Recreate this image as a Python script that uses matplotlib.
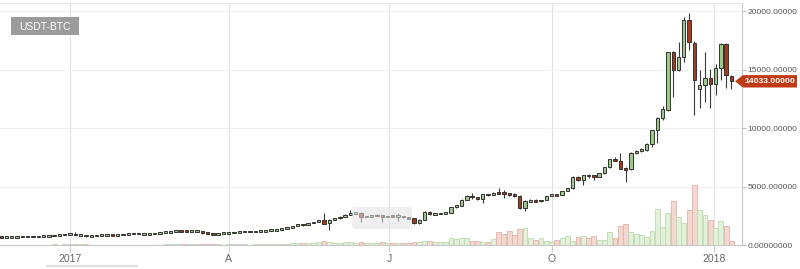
import numpy as np
import pandas as pd
import matplotlib
matplotlib.use('Agg')
import matplotlib.pyplot as plt
import matplotlib.dates as mdates
import matplotlib.transforms as mtransforms
from matplotlib.patches import Polygon, Rectangle, FancyBboxPatch
from matplotlib.lines import Line2D

plt.rcParams['font.family'] = ['Liberation Sans', 'DejaVu Sans']

# ---- data (3-day candles, USDT-BTC) ----
pair_name = 'USDT-BTC'
first_day = '2016-11-23'
period_days = 3
last_price = 14033.0
last_price_label = '14033.00000'

opens = [740, 735, 738, 745, 768, 762, 770, 775, 780, 790,
         830, 890, 900, 965, 1000, 895, 905, 800, 820, 895,
         900, 920, 895, 920, 970, 1025, 1040, 990, 1005, 1010,
         1055, 1120, 1175, 1190, 1270, 1250, 1190, 1240, 1245, 1060,
         1040, 965, 1040, 1050, 1090, 1140, 1190, 1200, 1180, 1210,
         1240, 1280, 1320, 1370, 1460, 1540, 1680, 1820, 1780, 1890,
         2030, 2180, 1900, 2220, 2320, 2460, 2610, 2750, 2780, 2460,
         2500, 2540, 2600, 2420, 2520, 2480, 2500, 2440, 2320, 1950,
         2220, 2880, 2650, 2720, 2750, 2800, 3260, 3400, 3890, 4260,
         4120, 4000, 4380, 4320, 4520, 4560, 4460, 4400, 4250, 3180,
         3800, 3830, 3800, 3890, 4230, 4370, 4320, 4660, 4890, 5880,
         5600, 6030, 5940, 5880, 6170, 6680, 7390, 7200, 6540, 6500,
         7930, 8080, 8200, 8700, 9870, 10900, 11600, 16500, 15000, 16110,
         19270, 17330, 13380, 13720, 14320, 13800, 15170, 17220, 14450]
highs = [750, 745, 750, 775, 772, 775, 780, 785, 795, 835,
         900, 935, 975, 1010, 1140, 920, 910, 830, 900, 905,
         925, 925, 925, 975, 1035, 1050, 1045, 1010, 1015, 1060,
         1125, 1190, 1200, 1280, 1290, 1260, 1250, 1260, 1260, 1080,
         1050, 1050, 1060, 1100, 1150, 1200, 1210, 1210, 1220, 1250,
         1290, 1330, 1380, 1470, 1560, 1700, 1850, 1840, 1900, 2050,
         2200, 2750, 2280, 2350, 2480, 2650, 3030, 2900, 2820, 2560,
         2620, 2650, 2620, 2560, 2560, 2800, 2560, 2450, 2340, 2250,
         2950, 2950, 2780, 2790, 2850, 3280, 3480, 3950, 4320, 4480,
         4180, 4400, 4400, 4600, 4950, 4700, 4500, 4450, 4350, 3850,
         4000, 3950, 3920, 4250, 4400, 4400, 4680, 4920, 5900, 5900,
         6050, 6080, 6020, 6200, 6750, 7400, 7600, 7880, 6700, 7950,
         8150, 8300, 8750, 9900, 10950, 11920, 16540, 16600, 17420, 19560,
         19850, 17500, 15000, 16560, 15090, 15510, 17300, 17300, 14600]
lows = [725, 728, 730, 740, 755, 758, 762, 768, 772, 785,
        825, 880, 895, 955, 880, 820, 760, 770, 815, 880,
        890, 885, 890, 915, 965, 1010, 960, 975, 995, 1005,
        1050, 1110, 1165, 1185, 1210, 1150, 1180, 1220, 1000, 990,
        930, 960, 1020, 1040, 1080, 1130, 1170, 1160, 1170, 1200,
        1230, 1270, 1310, 1360, 1450, 1530, 1670, 1700, 1770, 1880,
        2010, 1800, 1300, 2180, 2300, 2440, 2580, 2650, 2050, 2400,
        2450, 2500, 2000, 2400, 2430, 2100, 2380, 2250, 1850, 1850,
        2180, 2600, 2620, 2680, 2700, 2780, 3200, 3380, 3850, 3950,
        3900, 3600, 4250, 4300, 4400, 4100, 4250, 4150, 3150, 2950,
        3750, 3750, 3750, 3870, 4200, 4260, 4300, 4640, 4850, 5550,
        5170, 5800, 5600, 5850, 6150, 6650, 7200, 6500, 5450, 6450,
        7850, 7950, 8100, 8420, 8760, 10700, 11500, 12720, 14950, 15700,
        16710, 11150, 11750, 12290, 11750, 12860, 14150, 13460, 13370]
closes = [735, 738, 745, 768, 762, 770, 775, 780, 790, 830,
          890, 900, 965, 1000, 895, 905, 800, 820, 895, 900,
          920, 895, 920, 970, 1025, 1040, 990, 1005, 1010, 1055,
          1120, 1175, 1190, 1270, 1250, 1190, 1240, 1245, 1060, 1040,
          965, 1040, 1050, 1090, 1140, 1190, 1200, 1180, 1210, 1240,
          1280, 1320, 1370, 1460, 1540, 1680, 1820, 1780, 1890, 2030,
          2160, 1850, 2220, 2320, 2460, 2610, 2750, 2780, 2460, 2500,
          2540, 2600, 2420, 2520, 2480, 2500, 2440, 2320, 1900, 2200,
          2880, 2650, 2720, 2750, 2800, 3260, 3420, 3890, 4260, 4120,
          3960, 4380, 4320, 4520, 4500, 4460, 4400, 4230, 3230, 3800,
          3830, 3800, 3890, 4230, 4370, 4320, 4660, 4890, 5880, 5600,
          6030, 5940, 5880, 6170, 6730, 7390, 7250, 6540, 6500, 7930,
          8080, 8200, 8700, 9870, 10900, 11700, 16500, 15000, 16110, 19270,
          17420, 14150, 13720, 14320, 13800, 15170, 17220, 14570, 14033]
# volume is drawn on the price scale, as in the original chart
volumes = [45, 40, 50, 42, 38, 45, 40, 48, 55, 70,
           85, 75, 90, 95, 140, 110, 120, 80, 75, 70,
           60, 55, 60, 70, 75, 70, 80, 60, 55, 65,
           80, 95, 85, 110, 100, 120, 95, 85, 150, 110,
           120, 95, 80, 90, 100, 95, 85, 80, 90, 95,
           110, 120, 130, 160, 170, 220, 240, 180, 190, 230,
           260, 380, 300, 230, 220, 260, 300, 250, 320, 240,
           230, 250, 260, 210, 200, 230, 220, 240, 330, 300,
           420, 380, 300, 280, 310, 600, 520, 650, 600, 420,
           380, 300, 280, 520, 1150, 1000, 1200, 900, 1450, 1500,
           650, 500, 620, 350, 260, 480, 620, 850, 420, 700,
           850, 600, 800, 480, 470, 1130, 670, 1670, 1840, 1130,
           960, 870, 700, 1210, 3120, 1610, 2800, 3800, 2410, 1900,
           3030, 5170, 3030, 2610, 2180, 1520, 2090, 1670, 380]

month_ticks = ['2017-01-01', '2017-04-01', '2017-07-01', '2017-10-01', '2018-01-01']
month_labels = ['2017', 'A', 'J', 'O', '2018']
price_ticks = [0, 5000, 10000, 15000, 20000]
price_labels = ['0.00000000', '5000.000000', '10000.00000', '15000.00000', '20000.00000']

# ---- plot ----
dates = pd.date_range(first_day, periods=len(closes), freq='%dD' % period_days)
x = mdates.date2num(dates)
o = np.array(opens, float)
h = np.array(highs, float)
l = np.array(lows, float)
c = np.array(closes, float)
v = np.array(volumes, float)
up = c >= o

fig = plt.figure(figsize=(8, 2.69), dpi=100)
ax = fig.add_axes([0, 0.0874, 0.9275, 0.9015])

# volume bars
ax.bar(x, v, width=2.75, color=np.where(up, '#e3f0dc', '#f3d8d2'),
       edgecolor=np.where(up, '#bcdaae', '#e2b3aa'), linewidth=0.6, zorder=1)

# candles
ax.vlines(x, l, h, color='#3a3a3a', linewidth=0.8, zorder=2)
min_h = 150
body = np.abs(c - o)
mid = (o + c) / 2
bottom = np.where(body < min_h, mid - min_h / 2, np.minimum(o, c))
ax.bar(x, np.maximum(body, min_h), bottom=bottom, width=1.9,
       color=np.where(up, '#9cc98a', '#a63a1e'), edgecolor='#333333',
       linewidth=0.7, zorder=3)

jan1 = mdates.date2num(pd.Timestamp('2017-01-01'))
ax.set_xlim(jan1 - 39.7, jan1 + 381.0)
ax.set_ylim(0, 20726)

ax.set_xticks(mdates.date2num(pd.to_datetime(month_ticks)))
ax.set_xticklabels(month_labels)
ax.yaxis.tick_right()
ax.set_yticks(price_ticks)
ax.set_yticklabels(price_labels)
ax.tick_params(axis='x', length=5, width=0.8, color='#d0d0d0', labelcolor='#666666',
               labelsize=7.5, pad=1)
ax.tick_params(axis='y', length=3, width=0.8, color='#c0c0c0', labelcolor='#555555',
               labelsize=6.1, pad=1)

ax.set_axisbelow(True)
ax.grid(axis='x', color='#e0e0e0', linewidth=0.8)
ax.grid(axis='y', color='#f0f0f0', linewidth=0.8)
ax.spines['left'].set_visible(False)
ax.spines['top'].set_color('#e6e6e6')
ax.spines['right'].set_color('#c8c8c8')
ax.spines['bottom'].set_color('#c8c8c8')
for s in ax.spines.values():
    s.set_linewidth(0.8)

# grey hover box in the middle
ax.add_patch(FancyBboxPatch((0.4744, 0.068), 0.0809, 0.0908,
                            boxstyle='round,pad=0,rounding_size=0.004', mutation_aspect=3,
                            transform=ax.transAxes, fc='#e2e2e2', ec='none',
                            alpha=0.55, zorder=4))

# last price tag
trans = mtransforms.blended_transform_factory(ax.transAxes, ax.transData)
hh = 530
tag = Polygon([(0.9906, last_price), (1.0013, last_price + hh), (1.0741, last_price + hh),
               (1.0741, last_price - hh), (1.0013, last_price - hh)],
              closed=True, transform=trans, fc='#c03a17', ec='none', clip_on=False, zorder=6)
ax.add_patch(tag)
ax.text(1.0377, last_price, last_price_label, transform=trans, ha='center', va='center',
        color='white', fontsize=6.1, fontweight='bold', clip_on=False, zorder=7)

# pair label
fig.add_artist(Rectangle((11 / 800, 1 - 35 / 269), 68 / 800, 18 / 269,
                         transform=fig.transFigure, fc='#9b9b9b', ec='none'))
fig.text(45 / 800, 1 - 26.5 / 269, pair_name, ha='center', va='center',
         color='white', fontsize=7.5)

# scrollbar line under the axis
fig.add_artist(Line2D([47 / 800, 137 / 800], [1 - 266 / 269] * 2,
                      color='#e0e0e0', linewidth=1.5))

fig.savefig('out.png', dpi=100)
